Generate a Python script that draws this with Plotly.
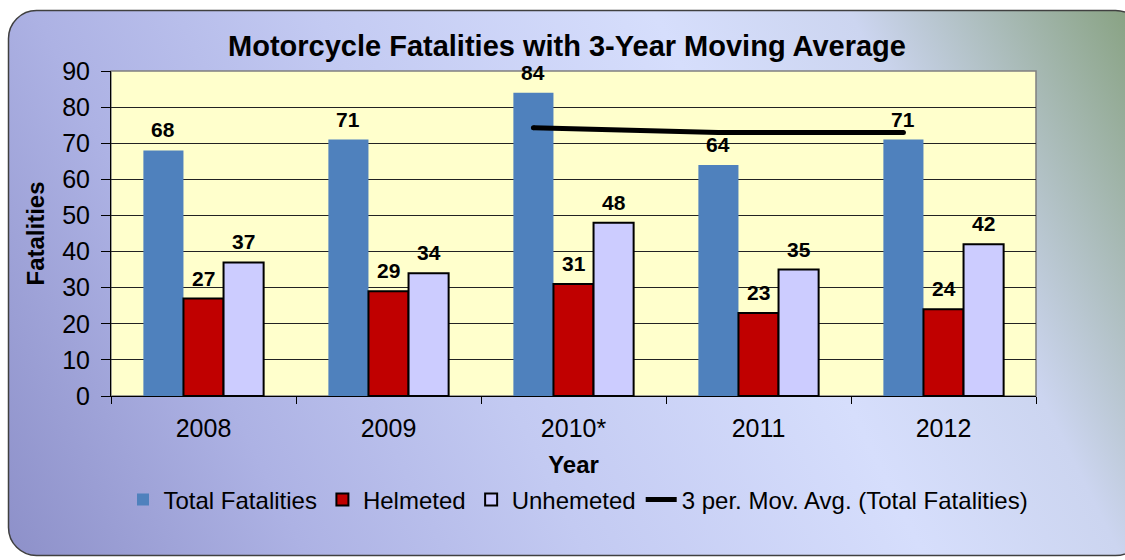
import base64
import plotly.graph_objects as go

# ---- data ----
years = ["2008", "2009", "2010*", "2011", "2012"]
total_fatalities = [68, 71, 84, 64, 71]
helmeted = [27, 29, 31, 23, 24]
unhelmeted = [37, 34, 48, 35, 42]
mov_avg_years = ["2010*", "2011", "2012"]
mov_avg = [74.3, 73.0, 73.0]

# ---- styling ----
W, H = 1125, 560
ML, MR, MT, MB = 111, 89, 71, 164
PW, PH = W - ML - MR, H - MT - MB
FONT = "Liberation Sans, Arial, sans-serif"
BARGAP = 0.35
BW = (1 - BARGAP) / 3  # width of a single bar in axis units
offsets = [-BW, 0.0, BW]
idx = {y: i for i, y in enumerate(years)}
xpos = list(range(len(years)))

svg = f'''<svg xmlns="http://www.w3.org/2000/svg" width="{W}" height="{H}" viewBox="0 0 {W} {H}">
<defs><linearGradient id="g" gradientUnits="userSpaceOnUse" x1="0" y1="{H}" x2="{W}" y2="0">
<stop offset="0" stop-color="#8C8FC8"/>
<stop offset="0.22" stop-color="#ADB2E4"/>
<stop offset="0.42" stop-color="#C3CAF2"/>
<stop offset="0.66" stop-color="#D6DEFC"/>
<stop offset="0.8" stop-color="#CCD5F0"/>
<stop offset="1" stop-color="#88A282"/>
</linearGradient></defs>
<rect x="0" y="0" width="{W}" height="{H}" fill="#ffffff"/>
<rect x="8.5" y="10.5" width="1135" height="545" rx="28" ry="28" fill="url(#g)" stroke="#404040" stroke-width="1.5"/>
</svg>'''
bg_src = "data:image/svg+xml;base64," + base64.b64encode(svg.encode()).decode()

fig = go.Figure()
fig.add_trace(go.Bar(name="Total Fatalities", x=xpos, y=total_fatalities,
                     marker=dict(color="#4F81BD", line=dict(width=0))))
fig.add_trace(go.Bar(name="Helmeted", x=xpos, y=helmeted,
                     marker=dict(color="#C00000", line=dict(color="black", width=2))))
fig.add_trace(go.Bar(name="Unhemeted", x=xpos, y=unhelmeted,
                     marker=dict(color="#CCCCFF", line=dict(color="black", width=2))))
fig.add_trace(go.Scatter(name="3 per. Mov. Avg. (Total Fatalities)",
                         x=[idx[y] + offsets[0] for y in mov_avg_years], y=mov_avg,
                         mode="lines+markers", line=dict(color="black", width=5),
                         marker=dict(color="black", size=5)))

annotations = []
for k, series in enumerate([total_fatalities, helmeted, unhelmeted]):
    for i, v in enumerate(series):
        annotations.append(dict(x=i + offsets[k], y=v, xref="x", yref="y", text=str(v),
                                showarrow=False, yanchor="bottom", yshift=7,
                                font=dict(family=FONT, size=21, color="black", weight="bold")))

fig.update_layout(
    width=W, height=H,
    margin=dict(l=ML, r=MR, t=MT, b=MB, pad=0, autoexpand=False),
    paper_bgcolor="white",
    plot_bgcolor="rgba(0,0,0,0)",
    font=dict(family=FONT, color="black", size=25),
    barmode="group", bargap=BARGAP, bargroupgap=0,
    title=dict(text="<b>Motorcycle Fatalities with 3-Year Moving Average</b>",
               x=0.504, xanchor="center", y=1 - 46 / H, yanchor="middle",
               font=dict(family=FONT, size=29, color="black")),
    xaxis=dict(range=[-0.5, len(years) - 0.5], tickvals=xpos, ticktext=years,
               ticks="", showgrid=False, zeroline=False,
               showline=True, linecolor="black", linewidth=1,
               tickfont=dict(size=25), ticklabelstandoff=10,
               minor=dict(tick0=-0.5, dtick=1, ticks="outside", ticklen=7,
                          tickcolor="black", showgrid=False),
               title=dict(text="<b>Year</b>", font=dict(size=24), standoff=15)),
    yaxis=dict(range=[0, 90], dtick=10, ticks="outside", ticklen=9, tickcolor="black",
               showgrid=True, gridcolor="#222222", gridwidth=1, zeroline=False,
               showline=True, linecolor="black", linewidth=1,
               tickfont=dict(size=25), ticklabelstandoff=6,
               title=dict(text="<b>Fatalities</b>", font=dict(size=24), standoff=10)),
    legend=dict(orientation="h", xref="container", x=578 / W, xanchor="center",
                yref="paper", y=(396 - 500) / PH, yanchor="middle",
                font=dict(size=24), bgcolor="rgba(0,0,0,0)", traceorder="normal",
                itemwidth=31),
    images=[dict(source=bg_src, xref="paper", yref="paper",
                 x=-ML / PW, y=1 + MT / PH, sizex=W / PW, sizey=H / PH,
                 xanchor="left", yanchor="top", sizing="stretch", layer="below")],
    shapes=[dict(type="rect", xref="paper", yref="paper", x0=0, x1=1, y0=0, y1=1,
                 fillcolor="#FFFFCC", line=dict(color="#808080", width=1.5), layer="below")],
    annotations=annotations,
    showlegend=True,
)

fig.write_html("out.html", config={"displayModeBar": False},
               post_script="document.body.style.margin='0';")
